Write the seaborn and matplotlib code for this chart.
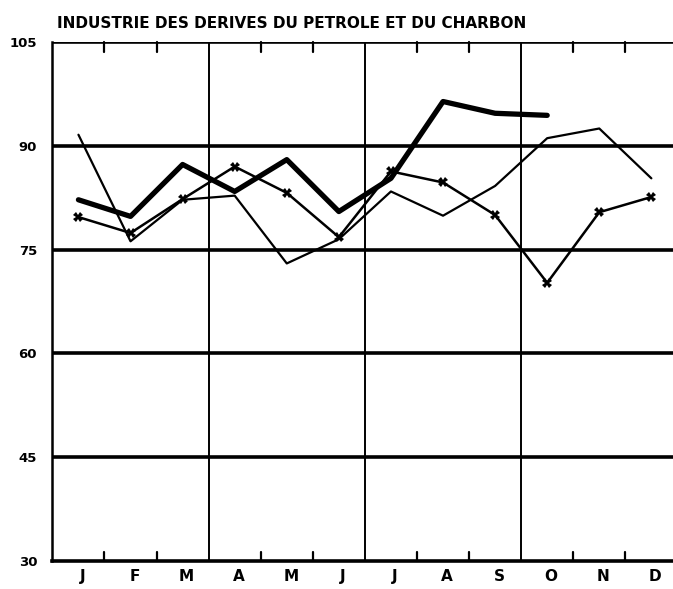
import matplotlib
matplotlib.use("Agg")
import matplotlib.pyplot as plt
import matplotlib.transforms as mtransforms
import seaborn as sns
import pandas as pd
import numpy as np

months = ["J", "F", "M", "A", "M", "J", "J", "A", "S", "O", "N", "D"]
y_ticks = [30, 45, 60, 75, 90, 105]
title = "INDUSTRIE DES DERIVES DU PETROLE ET DU CHARBON"

# Monthly index values for the three series
serie_courante = [82.2, 79.8, 87.3, 83.4, 88.0, 80.5, 85.3, 96.4, 94.7, 94.4]
serie_precedente = [79.7, 77.4, 82.3, 87.0, 83.2, 76.8, 86.3, 84.7, 80.0, 70.2, 80.4, 82.6]
serie_ancienne = [91.6, 76.2, 82.2, 82.8, 73.0, 76.5, 83.4, 79.9, 84.2, 91.1, 92.5, 85.3]

sns.set_theme(style="white")
plt.rcParams["font.family"] = ["DejaVu Sans"]
plt.rcParams["text.color"] = "black"
plt.rcParams["xtick.color"] = "black"
plt.rcParams["ytick.color"] = "black"

W, H = 673, 589
fig = plt.figure(figsize=(W / 100, H / 100), dpi=100)
ax = fig.add_axes([52.4 / W, 28 / H, 625 / W, 519 / H])

df_a = pd.DataFrame({"m": np.arange(len(serie_courante)), "v": serie_courante})
df_b = pd.DataFrame({"m": np.arange(len(serie_precedente)), "v": serie_precedente})
df_c = pd.DataFrame({"m": np.arange(len(serie_ancienne)), "v": serie_ancienne})

sns.lineplot(data=df_c, x="m", y="v", ax=ax, color="black", linewidth=1.6, zorder=4)
sns.lineplot(data=df_b, x="m", y="v", ax=ax, color="black", linewidth=1.8,
             marker="X", markersize=7, markeredgewidth=0, zorder=5)
sns.lineplot(data=df_a, x="m", y="v", ax=ax, color="black", linewidth=3.8,
             solid_capstyle="round", zorder=6)

ax.set_xlim(-0.5, 11.5)
ax.set_ylim(30, 105)

# horizontal reference lines
for v in y_ticks[1:]:
    ax.axhline(v, color="black", linewidth=2.6, zorder=2)
# quarter separators
for q in [2.5, 5.5, 8.5]:
    ax.axvline(q, color="black", linewidth=1.4, zorder=2)

# month boundary ticks on top and bottom
bounds = [b + 0.5 for b in range(11) if b not in (2, 5, 8)]
for b in bounds:
    ax.plot([b, b], [30, 31.3], color="black", linewidth=1.6, zorder=3, clip_on=False)
    ax.plot([b, b], [105, 103.5], color="black", linewidth=1.6, zorder=3, clip_on=False)

ax.set_xticks(range(12))
ax.set_xticklabels(months, fontsize=11, fontweight="bold")
ax.set_yticks(y_ticks)
ax.set_yticklabels([str(t) for t in y_ticks], fontsize=9.5, fontweight="bold")
ax.tick_params(axis="x", length=0, pad=6)
ax.tick_params(axis="y", length=0, pad=11)
shift = mtransforms.ScaledTranslation(4 / 100, 0, fig.dpi_scale_trans)
for lab in ax.get_xticklabels():
    lab.set_transform(lab.get_transform() + shift)
ax.set_xlabel("")
ax.set_ylabel("")

for s in ["top", "right"]:
    ax.spines[s].set_visible(False)
ax.spines["left"].set_color("black")
ax.spines["left"].set_linewidth(1.8)
ax.spines["bottom"].set_color("black")
ax.spines["bottom"].set_linewidth(2.6)

fig.text(57 / W, 1 - 24 / H, title, fontsize=11, fontweight="bold",
         ha="left", va="center", color="black")

fig.savefig("out.png", dpi=100, facecolor="white")
